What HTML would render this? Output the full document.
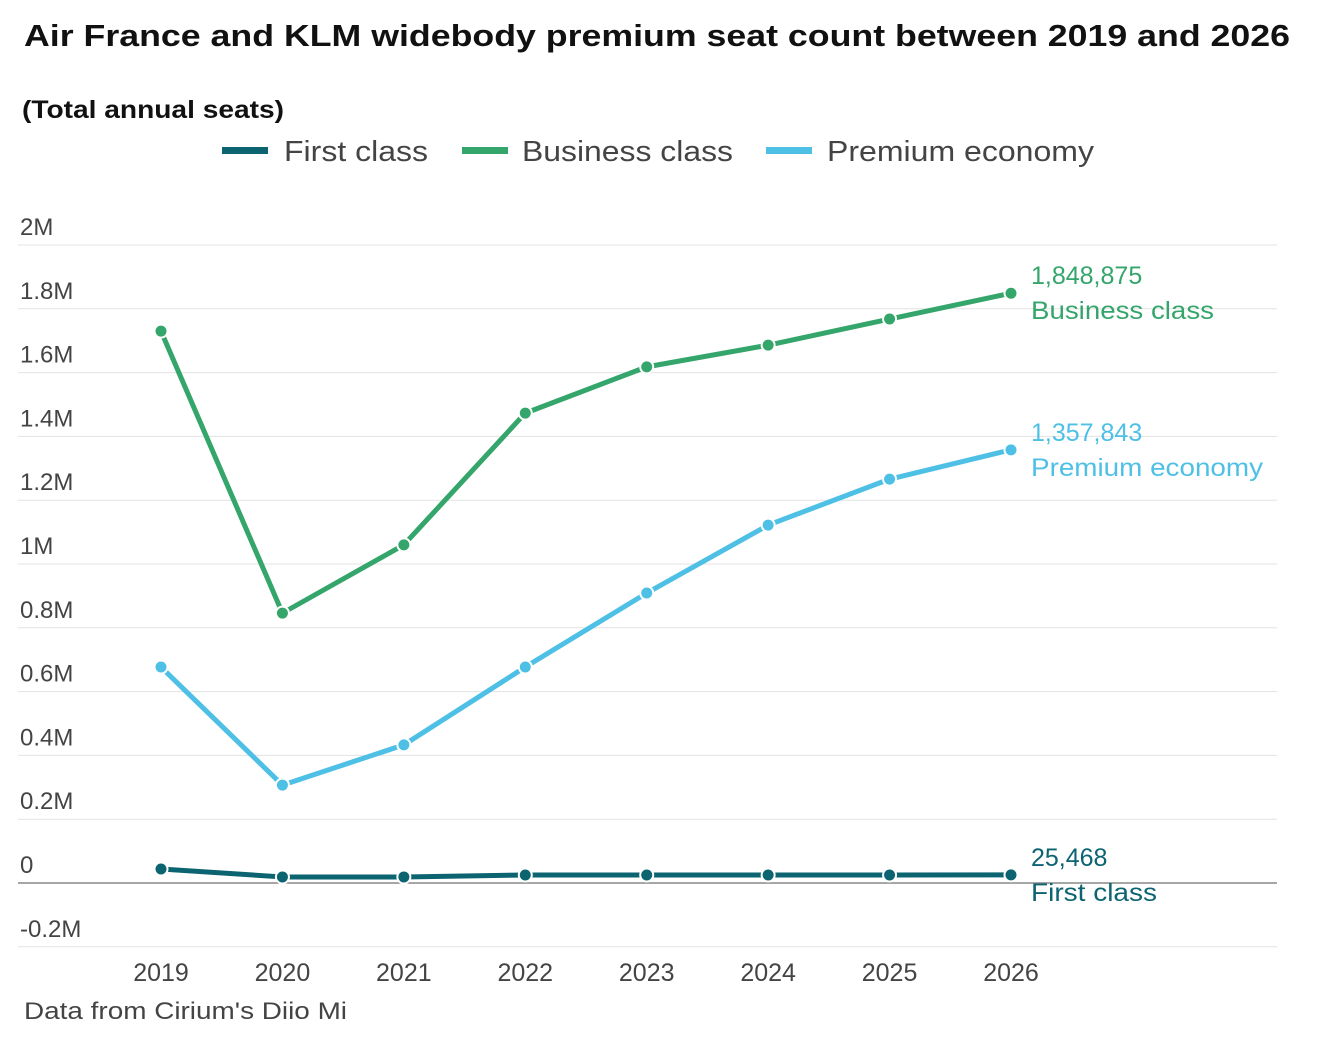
<!DOCTYPE html>
<html><head><meta charset="utf-8"><style>
body{margin:0;background:#fff;font-family:"Liberation Sans",sans-serif;}
</style></head><body>
<svg id="chart" width="1318" height="1040" xmlns="http://www.w3.org/2000/svg">
<text x="24" y="46" font-size="31" font-weight="bold" fill="#111" textLength="1266" lengthAdjust="spacingAndGlyphs">Air France and KLM widebody premium seat count between 2019 and 2026</text>
<text x="22" y="118" font-size="25" font-weight="bold" fill="#111" textLength="262" lengthAdjust="spacingAndGlyphs">(Total annual seats)</text>
<g>
<rect x="222" y="147" width="46" height="7" fill="#0b6470"/>
<text x="284" y="161" font-size="29" fill="#444" textLength="144" lengthAdjust="spacingAndGlyphs">First class</text>
<rect x="462" y="147" width="46" height="7" fill="#34a56b"/>
<text x="522" y="161" font-size="29" fill="#444" textLength="211" lengthAdjust="spacingAndGlyphs">Business class</text>
<rect x="766" y="147" width="46" height="7" fill="#4ec0e6"/>
<text x="827" y="161" font-size="29" fill="#444" textLength="267" lengthAdjust="spacingAndGlyphs">Premium economy</text>
</g>
<g id="grid"></g><g id="lines"></g>
<text x="24" y="1019" font-size="24" fill="#444" textLength="323" lengthAdjust="spacingAndGlyphs">Data from Cirium's Diio Mi</text>
</svg>
<script>
const years=["2019","2020","2021","2022","2023","2024","2025","2026"];
const firstClass=[44000,19000,19000,25000,25000,25000,25000,25468];
const business=[1730000,846000,1060000,1473000,1618000,1686000,1768000,1848875];
const premium=[677000,307000,433000,677000,909000,1122000,1266000,1357843];
const yTicks=[-200000,0,200000,400000,600000,800000,1000000,1200000,1400000,1600000,1800000,2000000];
const yTickLabels=["-0.2M","0","0.2M","0.4M","0.6M","0.8M","1M","1.2M","1.4M","1.6M","1.8M","2M"];
const NS="http://www.w3.org/2000/svg";
const y=v=>883-v*319/1e6;
const x=i=>161+i*(850/7);
function mk(t,a,p){const e=document.createElementNS(NS,t);for(const k in a)e.setAttribute(k,a[k]);p.appendChild(e);return e;}
const grid=document.getElementById('grid'),lines=document.getElementById('lines');
yTicks.forEach((v,i)=>{
 const l=mk('line',{x1:18,x2:1277,y1:y(v),y2:y(v),stroke:v===0?'#888':'#e3e3e3','stroke-width':v===0?1.5:1},grid);
 
 
 const t=mk('text',{x:20,y:y(v)-10,'font-size':24,fill:'#444'},grid);t.textContent=yTickLabels[i];
 
 
});
years.forEach((yr,i)=>{
 const t=mk('text',{x:x(i),y:981,'font-size':25,fill:'#444','text-anchor':'middle'},grid);t.textContent=yr;
 
 
});
const series=[[premium,'#4ec0e6','premium','Premium economy',232],[business,'#34a56b','business','Business class',183],[firstClass,'#0b6470','first','First class',126]];
series.forEach(([d,c,n,lab,w])=>{
 const p=mk('polyline',{points:d.map((v,i)=>x(i)+','+y(v)).join(' '),fill:'none',stroke:c,'stroke-width':5,'stroke-linejoin':'round'},lines);
 
 
 d.forEach((v,i)=>{const ci=mk('circle',{cx:x(i),cy:y(v),r:6.5,fill:c,stroke:'#fff','stroke-width':2},lines);
  
  });
 const last=d[d.length-1],ly=y(last);
 const t1=mk('text',{x:1031,y:ly-9,'font-size':25,fill:c},lines);t1.textContent=last.toLocaleString('en-US');
 
 
 const t2=mk('text',{x:1031,y:ly+26,'font-size':25,fill:c,textLength:w,lengthAdjust:'spacingAndGlyphs'},lines);t2.textContent=lab;
 
 
});
</script>
</body></html>
